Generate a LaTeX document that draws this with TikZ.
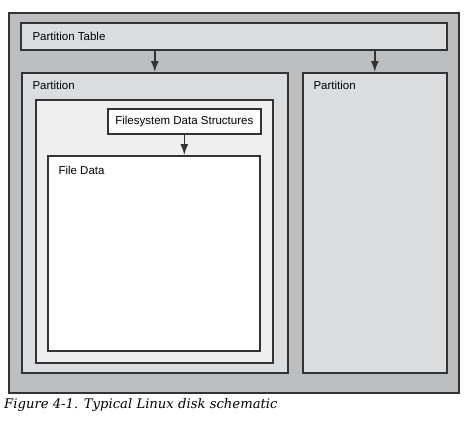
\documentclass[tikz,border=0pt]{standalone}
\usepackage{fontspec}
\setmainfont{Liberation Sans}
\newfontfamily\captionfont{DejaVu Serif}
\usetikzlibrary{arrows.meta}

\definecolor{diskgray}{HTML}{BDBEC0}
\definecolor{partgray}{HTML}{DCDDDF}
\definecolor{fsgray}{HTML}{EFEFF0}
\definecolor{rand}{HTML}{333333}

\tikzset{
    box/.style={draw=rand, line width=1.6pt, anchor=north west, inner sep=0pt},
    pfeil/.style={draw=rand, line width=1.6pt, -{Latex[length=11pt,width=8pt]}},
}

\begin{document}
\begin{tikzpicture}[x=1pt, y=-1pt, font=\fontsize{11.5}{13}\selectfont]
        \useasboundingbox (0,0) rectangle (465,420);

        % Bereiche
        \node[box, fill=diskgray, minimum width=450pt, minimum height=380pt] (disk) at (8,12) {};
        \node[box, fill=partgray, minimum width=426pt, minimum height=27pt] (ptable) at (20,22) {};
        \node[box, fill=partgray, minimum width=266pt, minimum height=300pt] (part1) at (21,72) {};
        \node[box, fill=partgray, minimum width=144pt, minimum height=300pt] (part2) at (302,72) {};
        \node[box, fill=fsgray, minimum width=237pt, minimum height=263pt] (fs) at (35,99) {};
        \node[box, fill=white, minimum width=153pt, minimum height=25pt] (fds) at (107,108) {Filesystem Data Structures};
        \node[box, fill=white, minimum width=212pt, minimum height=195pt] (filedata) at (47,155) {};

        % Beschriftungen
        \draw (ptable.west) +(9,0) node[right] {Partition Table};
        \draw (part1.north west) +(8,13) node[right] {Partition};
        \draw (part2.north west) +(8,13) node[right] {Partition};
        \draw (filedata.north west) +(8,15) node[right] {File Data};

        % Pfeile
        \draw[pfeil] (ptable.south -| part1.north) -- (part1.north);
        \draw[pfeil] (ptable.south -| part2.north) -- (part2.north);
        \draw[pfeil] (fds.south) -- (fds.south |- filedata.north);

        % Unterschrift
        \node[anchor=west, inner sep=0pt, font=\captionfont\itshape\fontsize{13.2}{15}\selectfont] (caption) at (4,405) {Figure 4-1. Typical Linux disk schematic};
\end{tikzpicture}
\end{document}
